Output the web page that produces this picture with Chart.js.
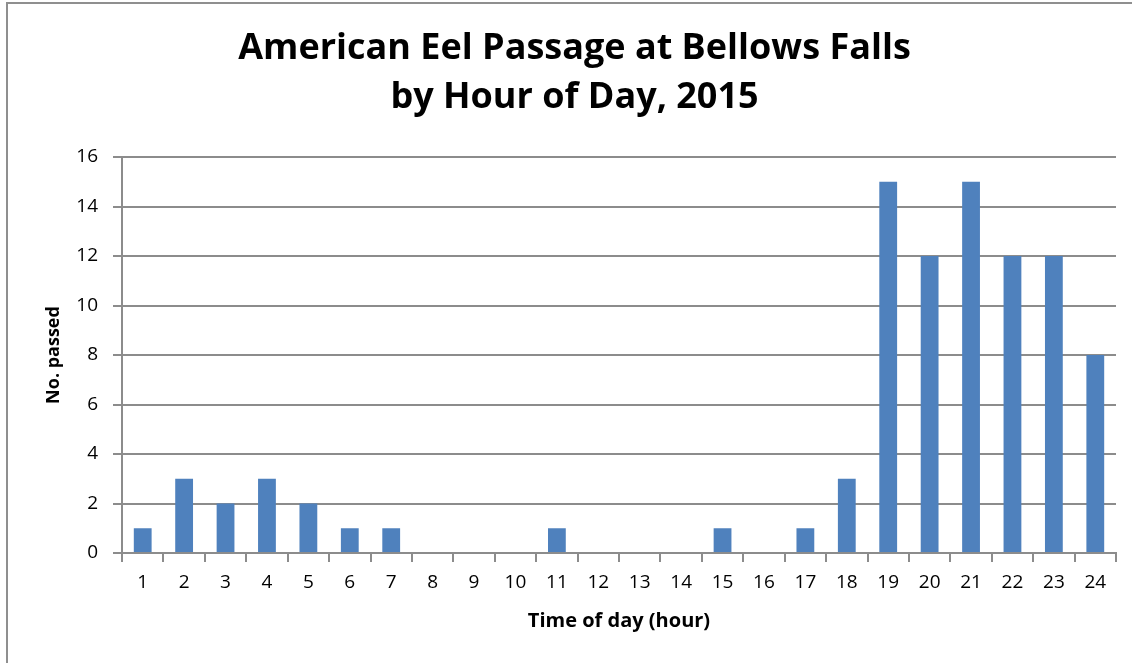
<!DOCTYPE html>
<html>
<head>
<meta charset="utf-8">
<script src="https://cdn.jsdelivr.net/npm/chart.js@4/dist/chart.umd.min.js"></script>
<style>
  html, body { margin: 0; padding: 0; background: #fff; }
  #wrap { width: 1132px; height: 663px; position: relative; }
</style>
</head>
<body>
<div id="wrap"><canvas id="c" width="1132" height="663"></canvas></div>
<script>
const titleLines = ['American Eel Passage at Bellows Falls', 'by Hour of Day, 2015'];
const hours = ['1','2','3','4','5','6','7','8','9','10','11','12','13','14','15','16','17','18','19','20','21','22','23','24'];
const eelsPassed = [1,3,2,3,2,1,1,0,0,0,1,0,0,0,1,0,1,3,15,12,15,12,12,8];
const yTicks = [0,2,4,6,8,10,12,14,16];
const xAxisTitle = 'Time of day (hour)';
const yAxisTitle = 'No. passed';

const GRID = '#8c8c8c';
const FONT = '"Open Sans"';

const frame = {
  id: 'frame',
  beforeDraw(chart) {
    const ctx = chart.ctx;
    ctx.save();
    ctx.fillStyle = '#fff';
    ctx.fillRect(0, 0, chart.width, chart.height);
    ctx.strokeStyle = '#8f8f8f';
    ctx.lineWidth = 2;
    ctx.beginPath();
    ctx.moveTo(7, chart.height);
    ctx.lineTo(7, 3);
    ctx.lineTo(chart.width, 3);
    ctx.stroke();
    ctx.restore();
  }
};

new Chart(document.getElementById('c'), {
  type: 'bar',
  data: {
    labels: hours,
    datasets: [{
      data: eelsPassed,
      backgroundColor: '#4f81bd',
      borderWidth: 0,
      barPercentage: 0.43,
      categoryPercentage: 1.0
    }]
  },
  options: {
    responsive: false,
    animation: false,
    devicePixelRatio: 1,
    layout: { padding: { left: 33, right: 16, top: 0, bottom: 0 } },
    plugins: {
      legend: { display: false },
      tooltip: { enabled: false },
      title: {
        display: true,
        text: titleLines,
        color: '#000',
        font: { family: FONT, size: 36, weight: 'bold', lineHeight: '49px' },
        padding: { top: 24, bottom: 35 }
      }
    },
    scales: {
      x: {
        offset: true,
        grid: {
          offset: true,
          drawOnChartArea: false,
          drawTicks: true,
          tickLength: 9,
          color: GRID,
          lineWidth: 2
        },
        border: { display: true, color: GRID, width: 2 },
        ticks: {
          color: '#000',
          font: { family: FONT, size: 19 },
          padding: 9,
          maxRotation: 0,
          autoSkip: false
        },
        title: {
          display: true,
          text: xAxisTitle,
          color: '#000',
          font: { family: FONT, size: 20, weight: 'bold', lineHeight: 1.2 },
          padding: { top: 0, bottom: 30 }
        },
        afterFit(scale) { scale.height = 110; }
      },
      y: {
        min: 0,
        max: 16,
        afterBuildTicks(scale) { scale.ticks = yTicks.map(v => ({ value: v })); },
        grid: {
          drawTicks: true,
          tickLength: 9,
          color: GRID,
          lineWidth: 2
        },
        border: { display: true, color: GRID, width: 2 },
        ticks: {
          color: '#000',
          font: { family: FONT, size: 19 },
          padding: 15
        },
        title: {
          display: true,
          text: yAxisTitle,
          color: '#000',
          font: { family: FONT, size: 18, weight: 'bold', lineHeight: 1.2 },
          padding: { top: 10, bottom: 0 }
        },
        afterFit(scale) { scale.width = 89; }
      }
    }
  },
  plugins: [frame]
});
</script>
</body>
</html>
